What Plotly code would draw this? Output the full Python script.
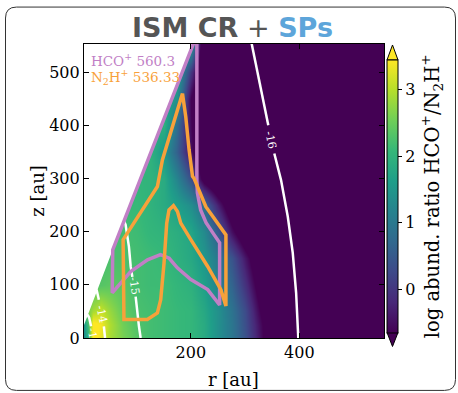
import plotly.graph_objects as go

# ---------------- data ----------------
# grid nodes of the log abundance ratio map (au)
r_nodes = [0, 10, 20, 35, 50, 75, 100, 125, 150, 175, 200, 225, 250, 275, 300, 325, 350, 560]
z_nodes = [0, 25, 50, 100, 150, 200, 250, 300, 350, 400, 450, 500, 560]

# log10 abundance ratio HCO+/N2H+ on the grid (rows follow z_nodes, columns r_nodes)
log_ratio = [
    [1.0, 2.0, 3.6, 3.3, 2.9, 2.6, 2.35, 2.2, 2.15, 2.1, 2.05, 1.85, 1.4, 0.95, 0.4, -0.4, -1.2, -1.5],
    [1.2, 2.2, 3.6, 3.4, 2.95, 2.55, 2.3, 2.2, 2.15, 2.1, 2.05, 1.85, 1.4, 0.95, 0.35, -0.45, -1.2, -1.5],
    [2.4, 2.6, 2.9, 3.1, 2.8, 2.45, 2.25, 2.2, 2.15, 2.1, 2.05, 1.8, 1.4, 0.9, 0.3, -0.6, -1.3, -1.5],
    [2.3, 2.3, 2.3, 2.35, 2.4, 2.35, 2.2, 2.15, 2.15, 2.05, 1.95, 1.65, 1.15, 0.65, -0.05, -0.9, -1.5, -1.5],
    [2.2, 2.2, 2.2, 2.2, 2.25, 2.25, 2.2, 2.15, 2.1, 1.95, 1.8, 1.5, 1.0, 0.4, -0.4, -1.2, -1.5, -1.5],
    [2.2, 2.2, 2.2, 2.2, 2.2, 2.2, 2.15, 2.05, 2.0, 1.9, 1.75, 1.3, 0.5, -0.5, -1.2, -1.5, -1.5, -1.5],
    [2.1, 2.1, 2.1, 2.1, 2.1, 2.1, 2.1, 2.0, 1.85, 1.65, 1.35, 0.75, -0.3, -1.2, -1.5, -1.5, -1.5, -1.5],
    [2.05, 2.05, 2.05, 2.05, 2.05, 2.05, 2.05, 2.0, 1.85, 1.2, 0.35, -0.9, -1.5, -1.5, -1.5, -1.5, -1.5, -1.5],
    [2.0, 2.0, 2.0, 2.0, 2.0, 2.0, 2.0, 2.0, 1.5, 0.6, -0.5, -1.5, -1.5, -1.5, -1.5, -1.5, -1.5, -1.5],
    [1.95, 1.95, 1.95, 1.95, 1.95, 1.95, 1.95, 1.95, 1.95, 0.8, -0.6, -1.5, -1.5, -1.5, -1.5, -1.5, -1.5, -1.5],
    [1.9, 1.9, 1.9, 1.9, 1.9, 1.9, 1.9, 1.9, 1.9, 1.4, -0.7, -1.5, -1.5, -1.5, -1.5, -1.5, -1.5, -1.5],
    [1.9, 1.9, 1.9, 1.9, 1.9, 1.9, 1.9, 1.9, 1.9, 1.8, 0.0, -1.5, -1.5, -1.5, -1.5, -1.5, -1.5, -1.5],
    [1.9, 1.9, 1.9, 1.9, 1.9, 1.9, 1.9, 1.9, 1.9, 1.9, 1.9, -1.5, -1.5, -1.5, -1.5, -1.5, -1.5, -1.5],
]

# upper boundary of the model grid (disk surface), region above is empty
surf_r = [-10, 6.6, 56, 102, 150, 205, 215]
surf_z = [-10, 35, 166, 283, 409, 553, 580]

# emission regions (contribution areas) of the two lines
hco_r = [211, 56, 55, 89, 120, 144, 160, 175, 200, 231, 253, 253, 243, 228, 218, 212, 211, 211]
hco_z = [570, 166, 85, 125, 147, 157, 150, 132, 110, 91, 62, 179, 194, 217, 241, 273, 297, 570]
n2h_r = [184.5, 190.6, 196.7, 203.0, 206, 227.6, 264.6, 264.6, 255.3, 230.7, 199.9, 181.4, 175.3,
         167.9, 159.7, 155.5, 150.5, 144.4, 138.3, 119.8, 76.6, 75.1, 138.3, 147.5, 184.5]
n2h_z = [460, 416, 354, 304, 300, 247, 194, 60, 91, 135, 185, 216, 238,
         249, 241, 216, 141, 72, 47, 35, 35, 185, 285, 335, 460]
hco_label = "HCO<sup>+</sup> 560.3"
n2h_label = "N<sub>2</sub>H<sup>+</sup> 536.33"

# contours of the ionisation rate (log), None marks the gap for the inline label
c16_r = [310.8, 329.3, 342.7, None, 353.8, 366.2, 378.6, 387.8, 394.0, 397.1, 398.0]
c16_z = [560, 466, 400, None, 347, 297, 228.5, 160, 85, 3.4, 0]
c15_r = [76, 79.7, 85.8, 89.0, 92.1, None, 98.2, 101.3, 104.3, 107.4]
c15_z = [222, 213, 172, 135, 115, None, 78, 47, 22, 0]
c14_r = [26.1, 30.4, None, 39.6, 41.8]
c14_z = [91, 72, None, 22, 0]
c13_r = [9.5, 12.6, 16.0]
c13_z = [44, 38, 22]
contour_labels = [("-16", 347.7, 372.4, 78), ("-15", 96.0, 97.0, 82), ("-14", 36.0, 45.0, 78),
                  ("-1", 17.5, 8.0, 80)]

cb_ticks = [0, 1, 2, 3]
z_lo, z_hi = -0.65, 3.45

# ---------------- layout helpers ----------------
W, H = 458, 393
L, R, T, B = 84, 384, 44, 338.5


def pxx(x):
    return (x - L) / (R - L)


def pyy(y):
    return (B - y) / (B - T)


SERIF = "DejaVu Serif"
PINK = "#C17FC6"
ORANGE = "#F8A13A"

fig = go.Figure()

fig.add_trace(go.Heatmap(
    x=r_nodes, y=z_nodes, z=log_ratio, zmin=z_lo, zmax=z_hi,
    colorscale="Viridis", zsmooth="best",
    colorbar=dict(
        x=pxx(387), xanchor="left", xpad=0, y=pyy(196.5), yanchor="middle", ypad=0,
        len=273, lenmode="pixels", thickness=11, thicknessmode="pixels",
        outlinecolor="black", outlinewidth=1,
        tickvals=cb_ticks, ticks="outside", ticklen=4, tickcolor="black",
        tickfont=dict(family=SERIF, size=16, color="black"),
        title=dict(text="log abund. ratio HCO<sup>+</sup>/N<sub>2</sub>H<sup>+</sup>",
                   side="right", font=dict(family=SERIF, size=19.5, color="black")),
    ),
    hoverinfo="skip",
))

# empty region above the disk surface
fig.add_trace(go.Scatter(
    x=surf_r + [surf_r[-1], -30, -30], y=surf_z + [700, 700, surf_z[0]],
    mode="lines", fill="toself", fillcolor="white", line=dict(width=0),
    hoverinfo="skip", showlegend=False,
))

for cr, cz in [(c16_r, c16_z), (c15_r, c15_z), (c14_r, c14_z), (c13_r, c13_z)]:
    fig.add_trace(go.Scatter(x=cr, y=cz, mode="lines", line=dict(color="white", width=2.5),
                             connectgaps=False, hoverinfo="skip", showlegend=False))

fig.add_trace(go.Scatter(x=hco_r, y=hco_z, mode="lines", line=dict(color=PINK, width=3.5),
                         hoverinfo="skip", showlegend=False))
fig.add_trace(go.Scatter(x=n2h_r, y=n2h_z, mode="lines", line=dict(color=ORANGE, width=3.5),
                         hoverinfo="skip", showlegend=False))

ax = dict(showline=True, mirror="allticks", linecolor="black", linewidth=1.2,
          ticks="inside", ticklen=5, tickcolor="black", showgrid=False, zeroline=False,
          tickfont=dict(family=SERIF, size=16, color="black"))
fig.update_xaxes(range=[3, 556], tickvals=[200, 400], **ax)
fig.update_yaxes(range=[0, 553], tickvals=[0, 100, 200, 300, 400, 500], **ax)

ann = []
for txt, rr, zz, ang in contour_labels:
    ann.append(dict(x=rr, y=zz, xref="x", yref="y", text=txt, showarrow=False, textangle=ang,
                    font=dict(family=SERIF, size=11, color="white")))
ann.append(dict(x=pxx(89), y=pyy(60), xref="paper", yref="paper", xanchor="left", yanchor="middle",
                text=hco_label, showarrow=False, font=dict(family=SERIF, size=13.5, color=PINK)))
ann.append(dict(x=pxx(89), y=pyy(77), xref="paper", yref="paper", xanchor="left", yanchor="middle",
                text=n2h_label, showarrow=False, font=dict(family=SERIF, size=13.5, color=ORANGE)))
ann.append(dict(x=pxx(232.5), y=pyy(27), xref="paper", yref="paper", xanchor="center", yanchor="middle",
                text="<b>ISM CR</b> + <b><span style='color:#5DA5DA'>SPs</span></b>", showarrow=False,
                font=dict(family="DejaVu Sans", size=27, color="#555555")))
ann.append(dict(x=pxx(233), y=pyy(380), xref="paper", yref="paper", xanchor="center", yanchor="middle",
                text="r [au]", showarrow=False, font=dict(family=SERIF, size=18, color="black")))
ann.append(dict(x=pxx(38), y=pyy(191), xref="paper", yref="paper", xanchor="center", yanchor="middle",
                text="z [au]", textangle=-90, showarrow=False, font=dict(family=SERIF, size=18, color="black")))

shapes = []
# colorbar extension triangles
xl, xr, xm = pxx(387), pxx(398), pxx(392.5)
shapes.append(dict(type="path", xref="paper", yref="paper",
                   path=f"M{xl},{pyy(60)} L{xm},{pyy(45)} L{xr},{pyy(60)} Z",
                   fillcolor="#fde725", line=dict(color="black", width=1)))
shapes.append(dict(type="path", xref="paper", yref="paper",
                   path=f"M{xl},{pyy(333)} L{xm},{pyy(347)} L{xr},{pyy(333)} Z",
                   fillcolor="#440154", line=dict(color="black", width=1)))

# rounded frame around the figure
x0, x1, y0, y1, rad = 5.5, 455.5, 7, 391, 11
p = (f"M{pxx(x0 + rad)},{pyy(y0)} L{pxx(x1 - rad)},{pyy(y0)} "
     f"Q{pxx(x1)},{pyy(y0)} {pxx(x1)},{pyy(y0 + rad)} L{pxx(x1)},{pyy(y1 - rad)} "
     f"Q{pxx(x1)},{pyy(y1)} {pxx(x1 - rad)},{pyy(y1)} L{pxx(x0 + rad)},{pyy(y1)} "
     f"Q{pxx(x0)},{pyy(y1)} {pxx(x0)},{pyy(y1 - rad)} L{pxx(x0)},{pyy(y0 + rad)} "
     f"Q{pxx(x0)},{pyy(y0)} {pxx(x0 + rad)},{pyy(y0)} Z")
shapes.append(dict(type="path", xref="paper", yref="paper", path=p,
                   line=dict(color="#333333", width=1)))

fig.update_layout(
    width=W, height=H, margin=dict(l=L, r=W - R, t=T, b=H - B),
    paper_bgcolor="white", plot_bgcolor="white",
    annotations=ann, shapes=shapes, showlegend=False,
)

fig.write_html("out.html")
